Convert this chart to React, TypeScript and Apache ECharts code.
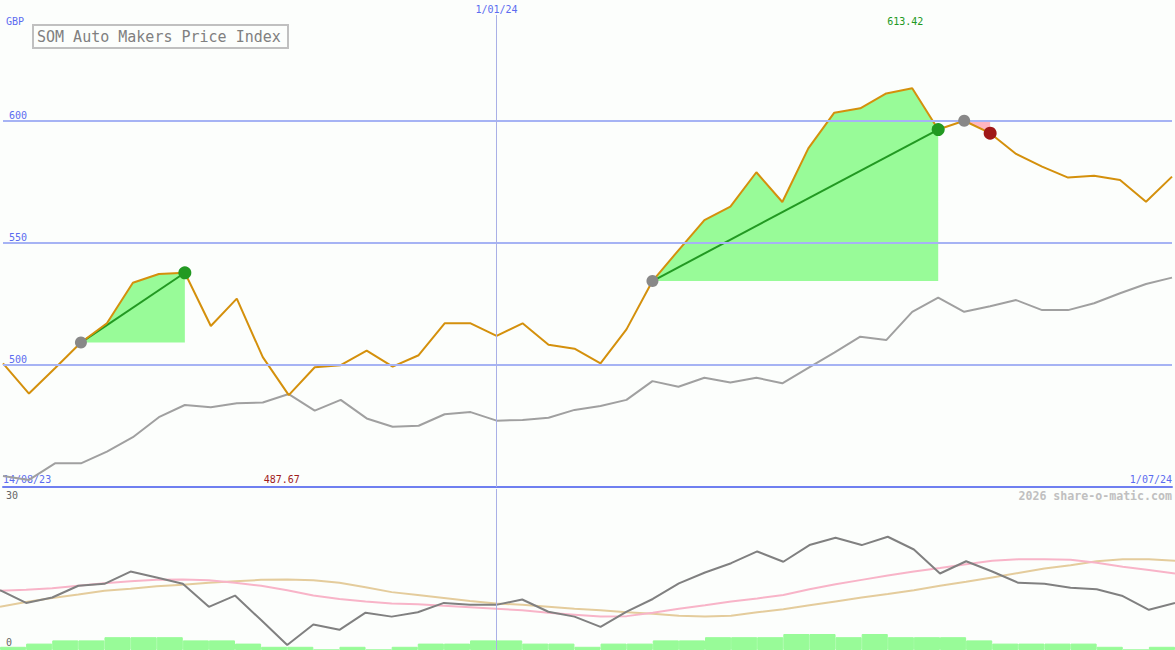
import React, { useEffect, useRef } from "react";
import * as echarts from "echarts";

// ---- data ----
const dates = [
  "21/08/23", "28/08/23", "4/09/23", "11/09/23", "18/09/23", "25/09/23", "2/10/23", "9/10/23",
  "16/10/23", "23/10/23", "30/10/23", "6/11/23", "13/11/23", "20/11/23", "27/11/23", "4/12/23",
  "11/12/23", "18/12/23", "25/12/23", "1/01/24", "8/01/24", "15/01/24", "22/01/24", "29/01/24",
  "5/02/24", "12/02/24", "19/02/24", "26/02/24", "4/03/24", "11/03/24", "18/03/24", "25/03/24",
  "1/04/24", "8/04/24", "15/04/24", "22/04/24", "29/04/24", "6/05/24", "13/05/24", "20/05/24",
  "27/05/24", "3/06/24", "10/06/24", "17/06/24", "24/06/24", "1/07/24",
];
const startLabel = "14/08/23";
const markerDate = "1/01/24";
const title = "SOM Auto Makers Price Index";
const currency = "GBP";
const watermark = "2026 share-o-matic.com";

const price = [
  500.7, 488.3, 498.7, 509.2, 517.1, 533.7, 537.3, 537.8, 516.0, 527.2, 503.2, 487.67,
  499.1, 499.9, 505.9, 499.3, 504.0, 517.1, 517.1, 511.9, 517.1, 508.3, 506.7, 500.7,
  514.6, 534.4, 547.0, 559.4, 564.9, 579.0, 566.8, 588.8, 603.4, 605.2, 611.3, 613.42,
  596.5, 600.1, 595.0, 586.5, 581.3, 576.8, 577.6, 575.8, 566.9, 577.2,
];
const relative = [
  454.5, 452.9, 459.7, 459.7, 464.5, 470.4, 478.6, 483.6, 482.7, 484.3, 484.6, 488.1,
  481.3, 485.7, 478.1, 474.7, 475.1, 479.8, 480.7, 477.2, 477.5, 478.4, 481.6, 483.2,
  485.7, 493.4, 491.1, 494.8, 492.8, 494.8, 492.5, 498.8, 505.1, 511.6, 510.2, 521.8,
  527.6, 521.8, 524.1, 526.6, 522.5, 522.5, 525.3, 529.4, 533.2, 535.8,
];
const momentum = [
  11.6, 9.0, 10.1, 12.5, 12.9, 15.4, 14.2, 12.9, 8.2, 10.5, 5.5, 0.4,
  4.6, 3.5, 7.0, 6.2, 7.1, 9.0, 8.6, 8.6, 9.7, 7.2, 6.2, 4.1,
  7.2, 9.8, 13.0, 15.2, 17.1, 19.5, 17.4, 20.8, 22.3, 20.8, 22.5, 19.9,
  15.0, 17.5, 15.4, 13.1, 12.9, 12.1, 11.8, 10.4, 7.6, 9.0,
];
const avgFast = [
  11.5, 11.7, 12.0, 12.5, 13.0, 13.4, 13.7, 13.8, 13.6, 13.1, 12.5, 11.6,
  10.5, 9.8, 9.3, 8.9, 8.7, 8.4, 8.1, 7.8, 7.5, 7.0, 6.6, 6.2,
  6.3, 7.0, 7.8, 8.5, 9.3, 9.9, 10.6, 11.8, 12.8, 13.7, 14.6, 15.4,
  16.1, 16.9, 17.6, 17.9, 17.9, 17.8, 17.2, 16.4, 15.7, 15.0,
];
const avgSlow = [
  8.2, 9.2, 10.0, 10.7, 11.5, 11.9, 12.4, 12.7, 13.1, 13.4, 13.7, 13.8,
  13.6, 13.1, 12.2, 11.2, 10.6, 10.0, 9.4, 8.9, 8.6, 8.2, 7.8, 7.5,
  7.1, 6.8, 6.4, 6.2, 6.4, 7.1, 7.7, 8.5, 9.3, 10.1, 10.8, 11.6,
  12.5, 13.3, 14.2, 15.1, 16.0, 16.7, 17.5, 17.9, 17.9, 17.6,
];
const volume = [
  1, 2, 3, 3, 4, 4, 4, 3, 3, 2, 1, 1, 0, 1, 0, 1, 2, 2, 3, 3, 2, 2, 1,
  2, 2, 3, 3, 4, 4, 4, 5, 5, 4, 5, 4, 4, 4, 3, 2, 2, 2, 2, 1, 0, 1,
];
const trendStart = [3, 25, 37];
const trendEnd = [7, 36, 38];
const priceTicks = [500, 550, 600];
const lowerTicks = [0, 30];

const FONT = "'DejaVu Sans Mono', 'Liberation Mono', monospace";
const BLUE = "#5b6cf0";
const GRID_BLUE = "#a6b3f4";
const AXIS_BLUE = "#6f7ff0";
const GREEN_FILL = "#98fb98";
const PINK_FILL = "#ffb6c1";
const GREEN = "#229922";
const RED = "#a01818";

export default function App() {
  const ref = useRef<HTMLDivElement>(null);

  useEffect(() => {
    const chart = echarts.init(ref.current as HTMLDivElement, null, { renderer: "svg" });
    const maxIdx = price.indexOf(Math.max(...price));
    const minIdx = price.indexOf(Math.min(...price));
    const trends = trendStart.map((s, k) => [s, trendEnd[k], price[s]]);

    const option: any = {
      animation: false,
      backgroundColor: "#fcfefc",
      grid: [
        { left: 0, top: 15, width: 1175, height: 472 },
        { left: 0, top: 489, width: 1175, height: 161 },
        { left: 0, top: 634, width: 1175, height: 16 },
      ],
      xAxis: [
        {
          gridIndex: 0,
          type: "category",
          data: dates,
          boundaryGap: false,
          axisLine: { show: true, lineStyle: { color: AXIS_BLUE, width: 2 } },
          axisTick: { show: false },
          splitLine: { show: false },
          axisLabel: {
            inside: true,
            margin: 3,
            interval: (i: number) => i === 0 || i === dates.length - 1,
            formatter: (v: string, i: number) => (i === 0 ? startLabel : v),
            color: BLUE,
            fontFamily: FONT,
            fontSize: 10,
            alignMinLabel: "left",
            alignMaxLabel: "right",
          },
        },
        { gridIndex: 1, type: "category", data: dates, boundaryGap: false, show: false },
        { gridIndex: 2, type: "category", data: dates.slice(1), boundaryGap: true, show: false },
      ],
      yAxis: [
        {
          gridIndex: 0,
          type: "value",
          min: 450,
          max: 643.44,
          splitLine: { show: false },
          axisLine: { show: false },
          axisTick: { show: false },
          axisLabel: {
            inside: true,
            customValues: priceTicks,
            margin: 6,
            verticalAlign: "bottom",
            color: BLUE,
            fontFamily: FONT,
            fontSize: 10,
          },
        },
        {
          gridIndex: 1,
          type: "value",
          min: -0.612,
          max: 32.245,
          splitLine: { show: false },
          axisLine: { show: false },
          axisTick: { show: false },
          axisLabel: {
            inside: true,
            customValues: lowerTicks,
            margin: 6,
            verticalAlign: "bottom",
            color: "#666666",
            fontFamily: FONT,
            fontSize: 10,
          },
        },
        { gridIndex: 2, type: "value", min: 0, max: 5, show: false },
      ],
      series: [
        {
          name: "relative",
          type: "line",
          xAxisIndex: 0,
          yAxisIndex: 0,
          z: 0,
          data: relative,
          symbol: "none",
          lineStyle: { color: "#a0a0a0", width: 2 },
          markLine: {
            silent: true,
            symbol: ["none", "none"],
            label: { show: false },
            lineStyle: { color: GRID_BLUE, width: 2, type: "solid" },
            data: [
              ...priceTicks.map((v) => ({ yAxis: v })),
              {
                xAxis: markerDate,
                lineStyle: { color: "#a9b0e6", width: 1, type: "solid" },
                label: {
                  show: true,
                  position: "end",
                  distance: 1,
                  formatter: markerDate,
                  color: BLUE,
                  fontFamily: FONT,
                  fontSize: 10,
                },
              },
            ],
          },
        },
        {
          name: "trendFill",
          type: "custom",
          xAxisIndex: 0,
          yAxisIndex: 0,
          z: 1,
          data: trends,
          encode: { x: 0, y: 2 },
          renderItem: (params: any, api: any) => {
            const s = api.value(0);
            const e = api.value(1);
            const up = price[e] >= price[s];
            const pts: number[][] = [];
            for (let i = s; i <= e; i++) pts.push(api.coord([i, price[i]]));
            const base = pts[0][1];
            const last = pts[pts.length - 1];
            const poly = [...pts, [last[0], base], [pts[0][0], base]];
            const children: any[] = [
              { type: "polygon", shape: { points: poly }, style: { fill: up ? GREEN_FILL : PINK_FILL } },
            ];
            if (up) {
              children.push({
                type: "line",
                shape: { x1: pts[0][0], y1: pts[0][1], x2: last[0], y2: last[1] },
                style: { stroke: GREEN, lineWidth: 2 },
              });
            }
            return { type: "group", children };
          },
        },
        {
          name: "price",
          type: "line",
          xAxisIndex: 0,
          yAxisIndex: 0,
          z: 3,
          data: price,
          symbol: "none",
          lineStyle: { color: "#d4900c", width: 2 },
        },
        {
          name: "trendMarkers",
          type: "custom",
          xAxisIndex: 0,
          yAxisIndex: 0,
          z: 5,
          data: trends,
          encode: { x: 0, y: 2 },
          renderItem: (params: any, api: any) => {
            const s = api.value(0);
            const e = api.value(1);
            const up = price[e] >= price[s];
            const a = api.coord([s, price[s]]);
            const b = api.coord([e, price[e]]);
            return {
              type: "group",
              children: [
                { type: "circle", shape: { cx: a[0], cy: a[1], r: 6 }, style: { fill: "#888888" } },
                { type: "circle", shape: { cx: b[0], cy: b[1], r: 6.5 }, style: { fill: up ? GREEN : RED } },
              ],
            };
          },
        },
        {
          name: "extremes",
          type: "custom",
          xAxisIndex: 0,
          yAxisIndex: 0,
          z: 5,
          data: [
            [maxIdx, price[maxIdx], 1],
            [minIdx, price[minIdx], 0],
          ],
          encode: { x: 0, y: 1 },
          renderItem: (params: any, api: any) => {
            const idx = api.value(0);
            const v = api.value(1);
            const isMax = api.value(2) === 1;
            const p = api.coord([idx, v]);
            const cs = params.coordSys;
            return {
              type: "text",
              x: p[0] - 7,
              y: isMax ? cs.y + 6 : cs.y + cs.height - 8,
              style: {
                text: v.toFixed(2),
                fill: isMax ? GREEN : "#a01c1c",
                font: `10px ${FONT}`,
                align: "center",
                verticalAlign: "middle",
              },
            };
          },
        },
        {
          name: "slow",
          type: "line",
          xAxisIndex: 1,
          yAxisIndex: 1,
          z: 2,
          data: avgSlow,
          symbol: "none",
          lineStyle: { color: "#e4cc9c", width: 2 },
          markLine: {
            silent: true,
            symbol: ["none", "none"],
            label: { show: false },
            lineStyle: { color: "#a9b0e6", width: 1, type: "solid" },
            data: [{ xAxis: markerDate }],
          },
        },
        {
          name: "fast",
          type: "line",
          xAxisIndex: 1,
          yAxisIndex: 1,
          z: 3,
          data: avgFast,
          symbol: "none",
          lineStyle: { color: "#f8b4c8", width: 2 },
        },
        {
          name: "momentum",
          type: "line",
          xAxisIndex: 1,
          yAxisIndex: 1,
          z: 4,
          data: momentum,
          symbol: "none",
          lineStyle: { color: "#808080", width: 2 },
        },
        {
          name: "volume",
          type: "bar",
          xAxisIndex: 2,
          yAxisIndex: 2,
          z: 1,
          data: volume,
          barCategoryGap: "0%",
          itemStyle: { color: GREEN_FILL, borderColor: GREEN_FILL, borderWidth: 1 },
        },
      ],
      graphic: [
        {
          type: "rect",
          shape: { x: 33, y: 25, width: 255, height: 23 },
          style: { fill: "#fcfefc", stroke: "#c0c0c0", lineWidth: 2 },
          z: 10,
        },
        {
          type: "text",
          x: 37,
          y: 37,
          style: { text: title, fill: "#808080", font: `15px ${FONT}`, verticalAlign: "middle" },
          z: 11,
        },
        {
          type: "text",
          x: 6,
          y: 21,
          style: { text: currency, fill: BLUE, font: `10px ${FONT}`, verticalAlign: "middle" },
          z: 11,
        },
        {
          type: "text",
          x: 1172,
          y: 496,
          style: {
            text: watermark,
            fill: "#c0c0c0",
            font: `bold 11.6px ${FONT}`,
            align: "right",
            verticalAlign: "middle",
          },
          z: 11,
        },
      ],
    };

    chart.setOption(option);
    return () => chart.dispose();
  }, []);

  return (
    <div
      ref={ref}
      style={{ position: "fixed", left: 0, top: 0, width: 1175, height: 650 }}
    />
  );
}
